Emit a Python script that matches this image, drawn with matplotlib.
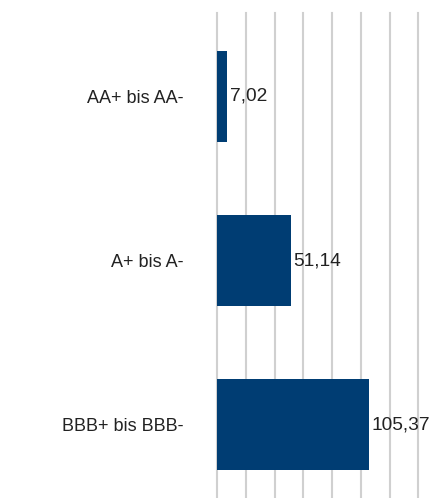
import matplotlib
matplotlib.use("Agg")
import matplotlib.pyplot as plt

categories = ["AA+ bis AA-", "A+ bis A-", "BBB+ bis BBB-"]
values = [7.02, 51.14, 105.37]
value_labels = ["7,02", "51,14", "105,37"]

plt.rcParams["font.family"] = ["Liberation Sans", "DejaVu Sans"]

W, H = 439, 498
fig = plt.figure(figsize=(W / 100, H / 100), dpi=100)
left, right = 217.3 / W, 418.3 / W
top, bottom = 13 / H, 498 / H
ax = fig.add_axes([left, 1 - bottom, right - left, bottom - top])

pos = list(range(len(categories)))
ax.barh(pos, values, height=0.56, color="#003d73", zorder=3)
for p, v, lab in zip(pos, values, value_labels):
    ax.text(v + 1.8, p, lab, va="center", ha="left", fontsize=13.8, color="#222222", zorder=4)

ax.set_xlim(0, 140)
ax.set_ylim(2.448, -0.509)
ax.set_xticks(range(0, 141, 20))
ax.set_xticklabels([])
ax.set_yticks(pos)
ax.set_yticklabels(categories, fontsize=13, color="#222222")
ax.tick_params(axis="y", length=0, pad=24.5)
ax.tick_params(axis="x", length=0)
ax.grid(axis="x", color="#d0d0d0", linewidth=1.5, zorder=0)
for g in ax.get_xgridlines():
    g.set_clip_on(False)
for s in ax.spines.values():
    s.set_visible(False)

fig.savefig("out.png", dpi=100)
